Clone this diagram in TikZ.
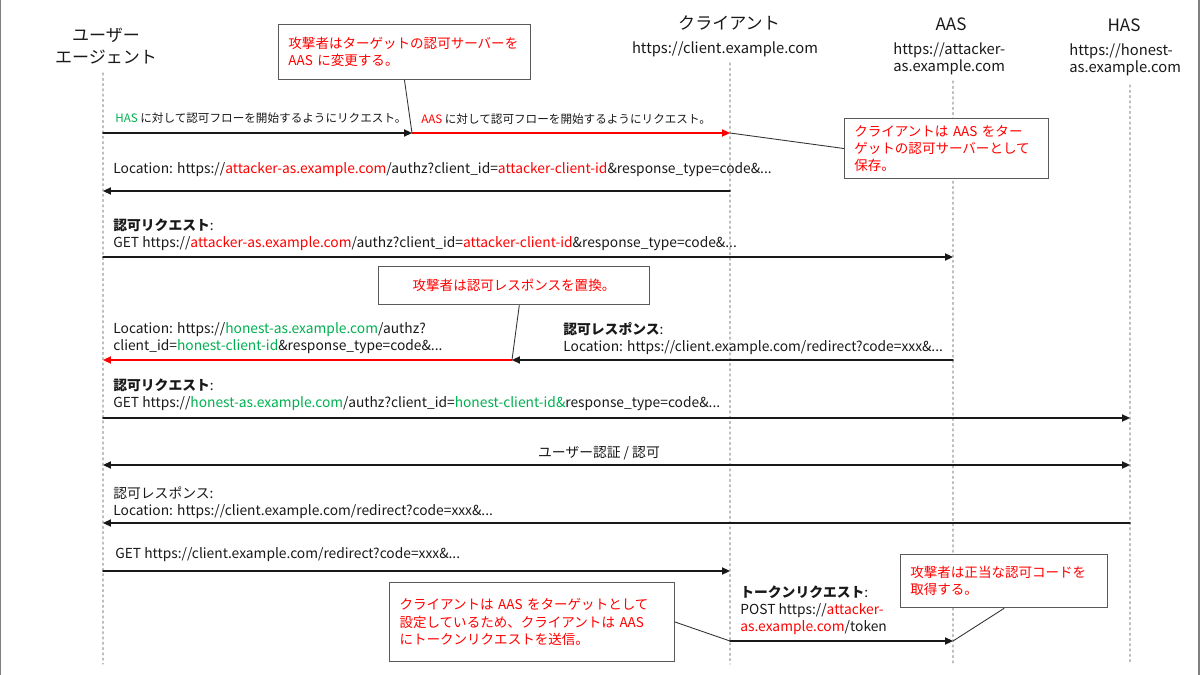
\documentclass[tikz,border=0pt]{standalone}
\usepackage{fontspec}
\setmainfont{Noto Sans CJK JP}
\usetikzlibrary{arrows.meta}
\definecolor{hasgreen}{RGB}{0,176,80}
\definecolor{aasred}{RGB}{255,0,0}
\definecolor{boxgray}{RGB}{90,90,90}
\newcommand{\headfont}{\fontsize{9.7}{12.5}\selectfont}
\newcommand{\urlfont}{\fontsize{8.4}{9.6}\selectfont}
\newcommand{\msgfont}{\fontsize{7.85}{9.6}\selectfont}
\newcommand{\smallmsgfont}{\fontsize{6.6}{8}\selectfont}
\newcommand{\notefont}{\fontsize{7.7}{9.8}\selectfont}
\newcommand{\red}[1]{\textcolor{aasred}{#1}}
\newcommand{\grn}[1]{\textcolor{hasgreen}{#1}}

\begin{document}
\begin{tikzpicture}[x=0.02cm,y=-0.02cm,line cap=round,
  >={Triangle[length=4.5pt,width=4pt]},
  msg/.style={->,line width=1pt,draw=black!90},
  msgred/.style={->,line width=1pt,draw=aasred},
  life/.style={draw=black!25,line width=0.6pt,dash pattern=on 1.2pt off 1.8pt},
  note/.style={draw=boxgray,fill=white,line width=0.6pt,text=aasred,font=\notefont,
    align=left,inner xsep=5.67pt,inner ysep=0pt},
  leader/.style={draw=black!80,line width=0.5pt},
  lbl/.style={anchor=west,inner sep=0pt,align=left,font=\msgfont,text=black!90},
  head/.style={font=\headfont,text=black!90,inner sep=0pt,align=center}]
\useasboundingbox (0,0) rectangle (1200,675);
\draw[black!50,line width=1pt] (0.5,0) -- (0.5,675);
\draw[black!50,line width=1pt] (1199,0) -- (1199,675);

% participants
\node[head] (ua) at (106,46) {ユーザー\\エージェント};
\node[head] (cl) at (729,23) {クライアント};
\node[head,font=\urlfont] (clurl) at (725,49) {https://client.example.com};
\node[head] (aas) at (951,24) {AAS};
\node[head,font=\urlfont,align=left,anchor=west] (aasurl) at (893,58.5) {https://attacker-\\as.example.com};
\node[head] (has) at (1124,25) {HAS};
\node[head,font=\urlfont,align=left,anchor=west] (hasurl) at (1069,59.5) {https://honest-\\as.example.com};

% lifelines
\coordinate (uatop) at (103,73);    \coordinate (uabot) at (103,664);
\coordinate (cltop) at (730,63);    \coordinate (clbot) at (730,664);
\coordinate (aastop) at (953,81);   \coordinate (aasbot) at (953,664);
\coordinate (hastop) at (1130,85);  \coordinate (hasbot) at (1130,664);
\draw[life] (uatop) -- (uabot);
\draw[life] (cltop) -- (clbot);
\draw[life] (aastop) -- (aasbot);
\draw[life] (hastop) -- (hasbot);

% 1: start of the flow, rewritten by the attacker
\coordinate (m1a) at (103,133); \coordinate (m1b) at (412,133); \coordinate (m1c) at (730,133);
\draw[msg] (m1a) -- (m1b);
\draw[msgred] (m1b) -- (m1c);
\node[lbl,font=\smallmsgfont] (l1a) at (115,118) {\grn{HAS} に対して認可フローを開始するようにリクエスト。};
\node[lbl,font=\smallmsgfont] (l1b) at (421,119) {\red{AAS} に対して認可フローを開始するようにリクエスト。};

% 2
\coordinate (m2a) at (103,191); \coordinate (m2c) at (730,191);
\draw[msg] (m2c) -- (m2a);
\node[lbl] (l2) at (113,170) {Location: https://\red{attacker-as.example.com}/authz?client\_id=\red{attacker-client-id}\&response\_type=code\&...};

% 3
\coordinate (m3a) at (103,257); \coordinate (m3d) at (953,257);
\draw[msg] (m3a) -- (m3d);
\node[lbl] (l3) at (113,234.5) {\textbf{認可リクエスト}:\\GET https://\red{attacker-as.example.com}/authz?client\_id=\red{attacker-client-id}\&response\_type=code\&...};

% 4: response swapped by the attacker
\coordinate (m4a) at (103,360); \coordinate (m4b) at (512,360); \coordinate (m4d) at (953,360);
\draw[msg] (m4d) -- (m4b);
\draw[msgred] (m4b) -- (m4a);
\node[lbl] (l4a) at (113,338.5) {Location: https://\grn{honest-as.example.com}/authz?\\client\_id=\grn{honest-client-id}\&response\_type=code\&...};
\node[lbl] (l4b) at (563,338.5) {\textbf{認可レスポンス}:\\Location: https://client.example.com/redirect?code=xxx\&...};

% 5
\coordinate (m5a) at (103,418); \coordinate (m5e) at (1130,418);
\draw[msg] (m5a) -- (m5e);
\node[lbl] (l5) at (113,394.5) {\textbf{認可リクエスト}:\\GET https://\grn{honest-as.example.com}/authz?client\_id=\grn{honest-client-id\&}response\_type=code\&...};

% 6
\coordinate (m6a) at (103,465); \coordinate (m6e) at (1130,465);
\draw[msg,<->] (m6a) -- (m6e);
\node[lbl,anchor=center] (l6) at (599,453) {ユーザー認証 / 認可};

% 7
\coordinate (m7a) at (103,523); \coordinate (m7e) at (1130,523);
\draw[msg] (m7e) -- (m7a);
\node[lbl] (l7) at (113,503) {認可レスポンス:\\Location: https://client.example.com/redirect?code=xxx\&...};

% 8
\coordinate (m8a) at (103,571); \coordinate (m8c) at (730,571);
\draw[msg] (m8a) -- (m8c);
\node[lbl] (l8) at (115,555) {GET https://client.example.com/redirect?code=xxx\&...};

% 9: token request sent to the attacker
\coordinate (m9c) at (730,641); \coordinate (m9d) at (953,641);
\draw[msg] (m9c) -- (m9d);
\node[lbl] (l9) at (740,610) {\textbf{トークンリクエスト}:\\POST https://\red{attacker-}\\\red{as.example.com}/token};

% notes
\node[note,minimum height=31.7pt,text width=132.1pt] (c1) at (404.5,52) {攻撃者はターゲットの認可サーバーを\\AAS に変更する。};
\draw[leader] (c1.south) -- (m1b);
\node[note,minimum height=34.6pt,text width=104.9pt] (c2) at (946.5,148.5) {クライアントは AAS をター\\ゲットの認可サーバーとして\\保存。};
\draw[leader] (c2.west) -- (m1c);
\node[note,align=center,minimum height=22.1pt,text width=142.9pt] (c3) at (514,285.5) {攻撃者は認可レスポンスを置換。};
\draw[leader] ([xshift=3pt]c3.south) -- (m4b);
\node[note,minimum height=45.4pt,text width=150.8pt] (c4) at (532,622) {クライアントは AAS をターゲットとして\\設定しているため、クライアントは AAS\\にトークンリクエストを送信。};
\draw[leader] (c4.east) -- (m9c);
\node[note,minimum height=30.6pt,text width=106.6pt] (c5) at (1004,581) {攻撃者は正当な認可コードを\\取得する。};
\draw[leader] (c5.south) -- (m9d);
\end{tikzpicture}
\end{document}
